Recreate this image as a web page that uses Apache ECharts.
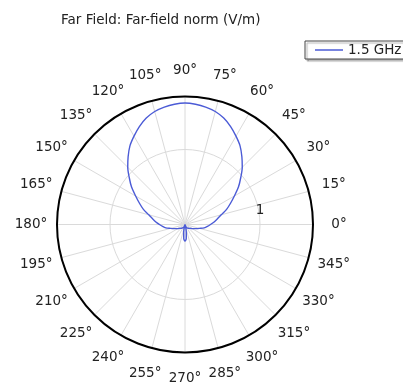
<!DOCTYPE html>
<html>
<head>
<meta charset="utf-8">
<script src="https://cdn.jsdelivr.net/npm/echarts@6/dist/echarts.min.js"></script>
<style>html,body{margin:0;padding:0;background:#fff;}#c{width:403px;height:386px;}</style>
</head>
<body>
<div id="c"></div>
<script>
var titleText = 'Far Field: Far-field norm (V/m)';
var seriesName = '1.5 GHz';
var angles = [0,5,10,15,20,25,30,35,40,45,50,55,60,65,70,75,80,85,90,95,100,105,110,115,120,125,130,135,140,145,150,155,160,165,170,175,180,185,190,195,200,205,210,215,220,225,230,235,240,245,250,255,260,265,270,275,280,285,290,295,300,305,310,315,320,325,330,335,340,345,350,355,360];
var norms  = [0.34,0.39,0.44,0.50,0.59,0.67,0.76,0.87,0.97,1.08,1.18,1.28,1.36,1.44,1.51,1.56,1.59,1.61,1.62,1.61,1.59,1.56,1.51,1.44,1.36,1.28,1.18,1.08,0.97,0.87,0.76,0.67,0.59,0.50,0.44,0.39,0.34,0.30,0.26,0.20,0.16,0.13,0.11,0.09,0.08,0.07,0.065,0.055,0.05,0.04,0.03,0.0,0.10,0.19,0.22,0.19,0.10,0.0,0.03,0.04,0.05,0.055,0.065,0.07,0.08,0.09,0.11,0.13,0.16,0.20,0.26,0.30,0.34];
var radiusMax = 1.707;
var radiusTicks = [0, 1];
var angleTicks = [0,15,30,45,60,75,90,105,120,135,150,165,180,195,210,225,240,255,270,285,300,315,330,345];
var angleLabelRadius = 2.054;

var fontName = 'DejaVu Sans';
var data = angles.map(function (a, i) { return [norms[i], a]; });
var labelData = angleTicks.map(function (a) { return [angleLabelRadius, a]; });
var chart = echarts.init(document.getElementById('c'), null, {renderer: 'canvas'});
chart.setOption({
  animation: false,
  backgroundColor: '#fff',
  title: {
    text: titleText, left: 56, top: 8,
    textStyle: {fontFamily: fontName, fontSize: 13.5, fontWeight: 'normal', color: '#222'}
  },
  legend: {
    data: [seriesName], left: 305, top: 41,
    orient: 'vertical',
    backgroundColor: '#fff', borderColor: '#444', borderWidth: 1,
    padding: [2, 10, 2, 10],
    itemWidth: 28, itemHeight: 14, itemGap: 4,
    icon: 'path://M0,6.5L28,6.5L28,8L0,8Z',
    shadowColor: 'rgba(0,0,0,0.3)', shadowOffsetX: 2, shadowOffsetY: 2, shadowBlur: 1,
    textStyle: {fontFamily: fontName, fontSize: 13.5, color: '#222', padding: [0, 0, 0, 0]}
  },
  polar: {center: [185, 224.5], radius: 128},
  angleAxis: {
    type: 'value', min: 0, max: 360, interval: 15,
    startAngle: 0, clockwise: false,
    axisLine: {show: true, lineStyle: {color: '#000', width: 2}},
    axisTick: {show: false},
    splitLine: {show: true, lineStyle: {color: '#dadada', width: 1}},
    axisLabel: {show: false}
  },
  radiusAxis: {
    type: 'value', min: 0, max: radiusMax, interval: 1,
    axisLine: {show: false}, axisTick: {show: false},
    splitLine: {show: true, lineStyle: {color: '#dadada', width: 1}},
    axisLabel: {
      showMaxLabel: false, margin: 7,
      fontFamily: fontName, fontSize: 13.5, color: '#222',
      formatter: function (v) { return radiusTicks.indexOf(v) > 0 ? String(v) : ''; }
    }
  },
  series: [{
    name: seriesName, type: 'line', coordinateSystem: 'polar',
    data: data, showSymbol: false, smooth: 0.3,
    lineStyle: {color: '#4b5bd6', width: 1.4}, itemStyle: {color: '#4b5bd6'}
  }, {
    name: 'angleLabels', type: 'scatter', coordinateSystem: 'polar',
    data: labelData, symbolSize: 0, clip: false, silent: true,
    itemStyle: {opacity: 1},
    label: {
      show: true, position: 'inside', fontFamily: fontName, fontSize: 13.5, color: '#222',
      formatter: function (p) { return p.value[1] + '°'; }
    }
  }]
});
</script>
</body>
</html>
